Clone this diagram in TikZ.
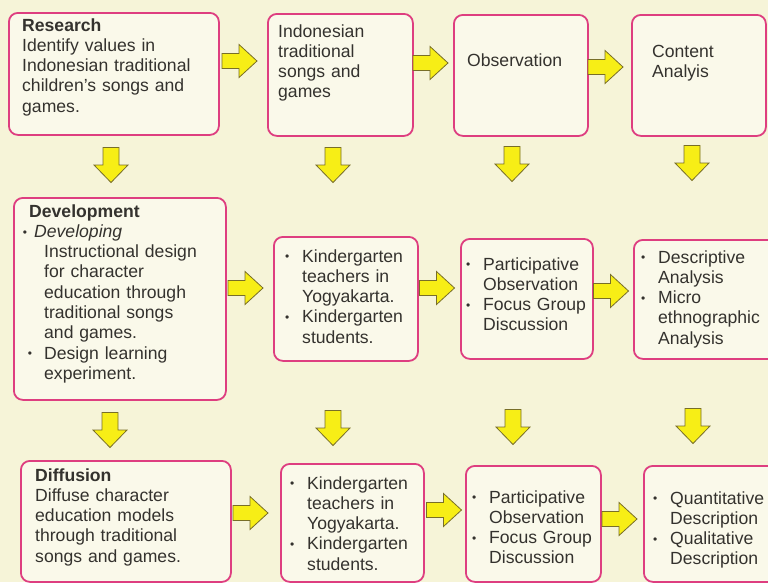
\documentclass[tikz,border=0pt]{standalone}
\usepackage{fontspec}
\setmainfont{Liberation Sans}
\usetikzlibrary{calc}
\definecolor{bgcol}{RGB}{246,244,216}
\definecolor{boxfill}{RGB}{250,249,234}
\definecolor{boxpink}{RGB}{222,62,128}
\definecolor{arryel}{RGB}{247,238,22}
\definecolor{arredge}{RGB}{120,110,40}
\definecolor{txtgray}{RGB}{52,50,46}
\newcommand\mybul[1][13pt]{\leavevmode\llap{\raisebox{1.3pt}{\fontsize{12}{12}\selectfont\textbullet}\hspace{#1}}}
\tikzset{
  box/.style={draw=boxpink, line width=1.8pt, fill=boxfill, rounded corners=9pt, inner sep=0pt, anchor=north west},
  txt/.style={inner sep=0pt, anchor=base west, text width=260pt, align=left, text=txtgray,
    font=\fontsize{17.6}{20.3}\selectfont},
  blockarrow/.style={fill=arryel, draw=arredge, line width=0.8pt, line join=miter},
  rarrow/.pic={\draw[blockarrow] (-17.5,-7.5) -- (-0.5,-7.5) -- (-0.5,-16.5) -- (17.5,0) -- (-0.5,16.5) -- (-0.5,7.5) -- (-17.5,7.5) -- cycle;},
  darrow/.pic={\draw[blockarrow] (-8,-17.5) -- (8,-17.5) -- (8,0) -- (17,0) -- (0,17.5) -- (-17,0) -- (-8,0) -- cycle;}
}
\begin{document}
\begin{tikzpicture}[x=1pt,y=-1pt]
\fill[bgcol] (0,0) rectangle (768,582);
\useasboundingbox (0,0) rectangle (768,582);
% row 1
\node[box, minimum width=210pt, minimum height=122pt] (a1) at (8,12) {};
\node[box, minimum width=145pt, minimum height=122pt] (a2) at (267,13) {};
\node[box, minimum width=134pt, minimum height=121pt] (a3) at (453,14) {};
\node[box, minimum width=134pt, minimum height=121pt] (a4) at (631,14) {};
% row 2
\node[box, minimum width=212pt, minimum height=202pt] (b1) at (13,197) {};
\node[box, minimum width=144pt, minimum height=124pt] (b2) at (273,236) {};
\node[box, minimum width=132pt, minimum height=120pt] (b3) at (460,238) {};
\node[box, minimum width=145pt, minimum height=119pt] (b4) at (633,239) {};
% row 3
\node[box, minimum width=210pt, minimum height=121pt] (c1) at (20,460) {};
\node[box, minimum width=143pt, minimum height=118pt] (c2) at (280,463) {};
\node[box, minimum width=135pt, minimum height=116pt] (c3) at (465,465) {};
\node[box, minimum width=140pt, minimum height=116pt] (c4) at (643,465) {};
% texts
\node[txt] (a1t) at (22,31) {\textbf{Research}\\Identify values in\\Indonesian traditional\\children's songs and\\games.};
\node[txt] (a2t) at (278,37) {Indonesian\\traditional\\songs and\\games};
\node[txt] (a3t) at (467,66) {Observation};
\node[txt] (a4t) at (652,57) {Content\\Analyis};
\node[txt] (b1t) at (29,217) {\textbf{Development}\\\hspace*{5pt}\mybul[7pt]\textit{Developing}\\\hspace*{15pt}Instructional design\\\hspace*{15pt}for character\\\hspace*{15pt}education through\\\hspace*{15pt}traditional songs\\\hspace*{15pt}and games.\\\hspace*{15pt}\mybul[12pt]Design learning\\\hspace*{15pt}experiment.};
\node[txt] (b2t) at (302,262) {\mybul Kindergarten\\teachers in\\Yogyakarta.\\\mybul Kindergarten\\students.};
\node[txt] (b3t) at (483,270) {\mybul Participative\\Observation\\\mybul Focus Group\\Discussion};
\node[txt] (b4t) at (658,263) {\mybul Descriptive\\Analysis\\\mybul Micro\\ethnographic\\Analysis};
\node[txt] (c1t) at (35,481) {\textbf{Diffusion}\\Diffuse character\\education models\\through traditional\\songs and games.};
\node[txt] (c2t) at (307,489) {\mybul Kindergarten\\teachers in\\Yogyakarta.\\\mybul Kindergarten\\students.};
\node[txt] (c3t) at (489,503) {\mybul Participative\\Observation\\\mybul Focus Group\\Discussion};
\node[txt] (c4t) at (670,504) {\mybul Quantitative\\Description\\\mybul Qualitative\\Description};
% right arrows
\pic at (239.5,61) {rarrow};
\pic at (430.5,63) {rarrow};
\pic at (605.5,67) {rarrow};
\pic at (245.5,288) {rarrow};
\pic at (437,288) {rarrow};
\pic at (611,291) {rarrow};
\pic at (250.5,513) {rarrow};
\pic at (444,510) {rarrow};
\pic at (619.5,519) {rarrow};
% down arrows
\pic at (111,165) {darrow};
\pic at (333,165) {darrow};
\pic at (512,164) {darrow};
\pic at (692,163) {darrow};
\pic at (110,430) {darrow};
\pic at (333,428) {darrow};
\pic at (513,427) {darrow};
\pic at (693,426) {darrow};
\end{tikzpicture}
\end{document}
